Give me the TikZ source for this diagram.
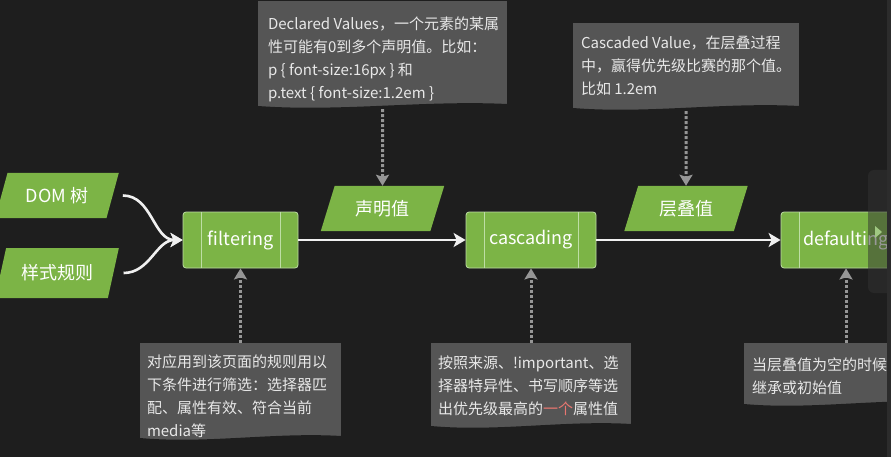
\documentclass[tikz,border=0pt]{standalone}
\usepackage{fontspec}
\setmainfont{Noto Sans CJK SC}
\usetikzlibrary{shapes.geometric,arrows.meta,calc}
\definecolor{bgc}{RGB}{30,30,30}
\definecolor{boxgreen}{RGB}{124,180,70}
\definecolor{edgegreen}{RGB}{190,222,165}
\definecolor{notegray}{RGB}{85,85,85}
\definecolor{notetext}{RGB}{232,232,232}
\definecolor{hotred}{RGB}{232,118,112}
\definecolor{linkgray}{RGB}{150,150,150}
\definecolor{panelc}{RGB}{50,50,50}
\definecolor{stripc}{RGB}{44,44,44}
\definecolor{tabgreen}{RGB}{160,200,130}

\begin{document}
\begin{tikzpicture}[x=1pt,y=-1pt,
  data/.style={trapezium,trapezium left angle=65,trapezium right angle=115,trapezium stretches=true,fill=boxgreen,text=white,font=\fontsize{18pt}{18pt}\selectfont,inner sep=0pt,minimum width=124pt,minimum height=45pt},
  proc/.style={rectangle,rounded corners=3pt,fill=boxgreen,draw=edgegreen,line width=0.8pt,minimum height=56pt,text=white,font=\fontsize{18pt}{18pt}\selectfont,
    path picture={\draw[edgegreen,line width=0.8pt] ([xshift=18pt]path picture bounding box.north west) -- ([xshift=18pt]path picture bounding box.south west) ([xshift=-18pt]path picture bounding box.north east) -- ([xshift=-18pt]path picture bounding box.south east);}},
  note/.style={rectangle,fill=notegray,inner sep=0pt,
    path picture={\coordinate (sw) at (path picture bounding box.south west);
      \coordinate (se) at (path picture bounding box.south east);
      \fill[bgc] ([yshift=3pt]sw) .. controls ($(sw)!0.33!(se)+(0pt,-3pt)$) and ($(sw)!0.67!(se)+(0pt,9pt)$) .. ([yshift=5pt]se) -- (se) -- (sw) -- cycle;}},
  notetxt/.style={anchor=north west,inner sep=0pt,align=left,text=notetext,font=\fontsize{15pt}{23pt}\selectfont},
  flow/.style={draw=white!94!black,line width=2.6pt,-{Stealth[length=12pt,width=14pt,inset=3pt]}},
  hint/.style={draw=linkgray,line width=3pt,dash pattern=on 3pt off 2pt,-{Stealth[length=11pt,width=13pt,inset=2pt]}}]
\useasboundingbox (0,0) rectangle (891,457);
\clip (0,0) rectangle (891,457);
\fill[bgc] (0,0) rectangle (891,457);

\node (1) at (57,195.5) [data,minimum height=45pt] {DOM 树};
\node (2) at (57,273) [data,minimum height=50pt] {样式规则};
\node (3) at (240.5,240) [proc,minimum width=115pt] {filtering};
\node (4) at (382.5,208.5) [data] {声明值};
\node (5) at (531,240) [proc,minimum width=130pt] {cascading};
\node (6) at (686,208.5) [data] {层叠值};
\node (7) at (846,240) [proc,minimum width=130pt] {defaulting};

\node (8) at (382.5,55) [note,minimum width=249pt,minimum height=108pt,
  label={[notetxt,xshift=10pt,yshift=-16pt]north west:{Declared Values，一个元素的某属\\性可能有0到多个声明值。比如：\\p \{ font-size:16px \} 和\\p.text \{ font-size:1.2em \}}}] {};
\node (9) at (686,67) [note,minimum width=226pt,minimum height=88pt,
  label={[notetxt,xshift=8pt,yshift=-13pt]north west:{Cascaded Value，在层叠过程\\中，赢得优先级比赛的那个值。\\比如 1.2em}}] {};
\node (10) at (240.5,392) [note,minimum width=201pt,minimum height=98pt,
  label={[notetxt,xshift=7pt,yshift=-12pt]north west:{对应用到该页面的规则用以\\下条件进行筛选：选择器匹\\配、属性有效、符合当前\\media等}}] {};
\node (11) at (531,386) [note,minimum width=200pt,minimum height=86pt,
  label={[notetxt,xshift=7pt,yshift=-13pt]north west:{按照来源、!important、选\\择器特异性、书写顺序等选\\出优先级最高的\textcolor{hotred}{一个}属性值}}] {};
\node (12) at (846,375) [note,minimum width=204pt,minimum height=64pt,
  label={[notetxt,xshift=8pt,yshift=-15pt]north west:{当层叠值为空的时候\\继承或初始值}}] {};

\draw[flow] ([xshift=10pt]1.east) to[out=0,in=180] (3.west);
\draw[flow] ([xshift=10pt]2.east) to[out=0,in=180] (3.west);
\draw[flow] (3) -- (5);
\draw[flow] (5) -- (7);
\draw[hint] (8.south) -- (4.north);
\draw[hint] (9.south) -- (6.north);
\draw[hint] (10.north) -- (3.south);
\draw[hint] (11.north) -- (5.south);
\draw[hint] (12.north) -- (7.south);

\fill[panelc,opacity=0.5,rounded corners=6pt] (868,170) rectangle (905,293);
\fill[tabgreen] (875,226) -- (882,232) -- (875,238) -- cycle;
\fill[stripc] (887,0) rectangle (891,457);
\end{tikzpicture}
\end{document}
